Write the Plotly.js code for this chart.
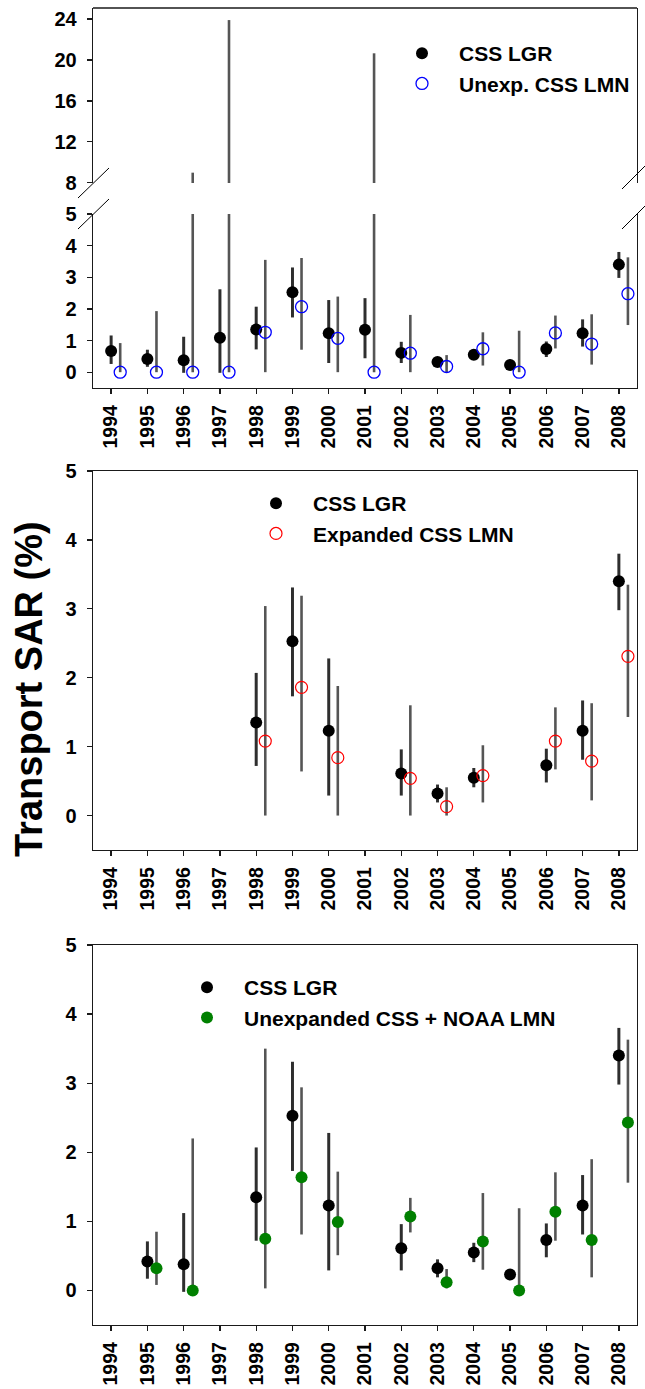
<!DOCTYPE html>
<html><head><meta charset="utf-8">
<script src="https://cdn.plot.ly/plotly-3.0.1.min.js"></script>
<style>html,body{margin:0;padding:0;background:#fff}</style>
</head><body><div id="chart" style="width:645px;height:1389px"></div>
<script>
// ---- data ----
const years = [1994,1995,1996,1997,1998,1999,2000,2001,2002,2003,2004,2005,2006,2007,2008];
const yearLabels = years.map(String);

const lgrSAR = [0.67,0.42,0.38,1.09,1.35,2.53,1.23,1.34,0.61,0.32,0.55,0.23,0.73,1.23,3.40];
const lgrLo  = [0.26,0.17,-0.02,-0.02,0.72,1.73,0.29,0.44,0.29,0.19,0.41,0.17,0.48,0.81,2.98];
const lgrHi  = [1.16,0.71,1.12,2.62,2.07,3.31,2.28,2.34,0.96,0.45,0.69,0.29,0.97,1.67,3.80];

const unexpSAR = [0,0,0,0,1.26,2.07,1.07,0,0.60,0.18,0.74,0,1.24,0.89,2.48];
const unexpLo  = [0,0,0,0,0,0.71,0,0,0,0,0.21,0,0.75,0.24,1.49];
const unexpHi  = [0.92,1.93,8.98,23.9,3.55,3.61,2.39,20.65,1.81,0.54,1.26,1.31,1.79,1.83,3.63];

const expSAR = [null,null,null,null,1.08,1.86,0.84,null,0.54,0.13,0.58,null,1.08,0.79,2.31];
const expLo  = [null,null,null,null,0,0.64,0,null,0,0,0.19,null,0.67,0.22,1.43];
const expHi  = [null,null,null,null,3.04,3.19,1.88,null,1.60,0.41,1.02,null,1.57,1.63,3.35];

const noaaSAR = [null,0.32,0.00,null,0.75,1.64,0.99,null,1.07,0.12,0.71,0.00,1.14,0.73,2.43];
const noaaLo  = [null,0.08,0,null,0.03,0.81,0.51,null,0.84,0.03,0.30,0,0.72,0.19,1.56];
const noaaHi  = [null,0.85,2.20,null,3.50,2.94,1.72,null,1.34,0.31,1.41,1.19,1.71,1.90,3.63];

const seriesNames = ['CSS LGR','Unexp. CSS LMN','Expanded CSS LMN','Unexpanded CSS + NOAA LMN'];

// ---- helpers ----
const FONT = 'Liberation Sans, Arial, Helvetica, sans-serif';
const W = 645, H = 1389, L = 93, R = 8;
const PW = W - L - R;
const px = X => (X - L) / PW;
const py = Y => 1 - Y / H;

function trace(vals, lo, hi, mask, xa, ya, offset, marker, barColor, barW, name, legend, showlegend) {
  const xs = [], ys = [], up = [], dn = [];
  years.forEach((yr, i) => {
    if (vals[i] === null || (mask && mask[i] === null)) return;
    xs.push(yr + offset); ys.push(vals[i]);
    up.push(hi[i] - vals[i]); dn.push(vals[i] - lo[i]);
  });
  return {
    type: 'scatter', mode: 'markers', x: xs, y: ys, xaxis: xa, yaxis: ya,
    name: name, legend: legend, showlegend: showlegend,
    marker: marker,
    error_y: {type: 'data', symmetric: false, array: up, arrayminus: dn,
              width: 0, thickness: barW, color: barColor},
    hoverinfo: 'x+y'
  };
}

const mLGR = {symbol: 'circle', size: 12, color: '#000'};
const mUnexp = {symbol: 'circle-open', size: 12, color: '#0000ff', line: {width: 1.3, color: '#0000ff'}};
const mExp = {symbol: 'circle-open', size: 12, color: '#ff0000', line: {width: 1.2, color: '#ff0000'}};
const mNoaa = {symbol: 'circle', size: 12, color: '#008000'};
const cLGR = '#2e2e2e', cOther = '#555555';

const data = [
  // panel 1, lower segment
  trace(lgrSAR, lgrLo, lgrHi, null, 'x', 'y', 0, mLGR, cLGR, 3, seriesNames[0], 'legend', true),
  trace(unexpSAR, unexpLo, unexpHi, null, 'x', 'y', 0.25, mUnexp, cOther, 2.6, seriesNames[1], 'legend', true),
  // panel 1, upper segment (same data, clipped to the 8-25 range)
  trace(lgrSAR, lgrLo, lgrHi, null, 'x', 'y2', 0, mLGR, cLGR, 3, seriesNames[0], 'legend', false),
  trace(unexpSAR, unexpLo, unexpHi, null, 'x', 'y2', 0.25, mUnexp, cOther, 2.6, seriesNames[1], 'legend', false),
  // panel 2
  trace(lgrSAR, lgrLo, lgrHi, expSAR, 'x2', 'y3', 0, mLGR, cLGR, 3, seriesNames[0], 'legend2', true),
  trace(expSAR, expLo, expHi, null, 'x2', 'y3', 0.25, mExp, cOther, 2.6, seriesNames[2], 'legend2', true),
  // panel 3
  trace(lgrSAR, lgrLo, lgrHi, noaaSAR, 'x3', 'y4', 0, mLGR, cLGR, 3, seriesNames[0], 'legend3', true),
  trace(noaaSAR, noaaLo, noaaHi, null, 'x3', 'y4', 0.25, mNoaa, cOther, 2.6, seriesNames[3], 'legend3', true)
];

const lineC = '#1a1a1a';
const tickFontY = {family: FONT, size: 20, weight: 'bold', color: '#000'};
const tickFontX = {family: FONT, size: 19.5, weight: 'bold', color: '#000'};

function xaxis(anchor, mirror) {
  return {
    anchor: anchor, range: [1993.5, 2008.5], tickmode: 'array', tickvals: years, ticktext: yearLabels,
    tickangle: -90, ticks: 'outside', ticklen: 5, tickwidth: 1.3, tickcolor: lineC,
    showline: true, linecolor: lineC, linewidth: 1.3, mirror: mirror,
    showgrid: false, zeroline: false, tickfont: tickFontX, ticklabelstandoff: 3, fixedrange: true
  };
}
function yaxis(domain, range, tickvals, anchor) {
  return {
    domain: domain, range: range, anchor: anchor, tickmode: 'array', tickvals: tickvals,
    ticks: 'outside', ticklen: 5, tickwidth: 1.3, tickcolor: lineC,
    showline: true, linecolor: lineC, linewidth: 1.3, mirror: true,
    showgrid: false, zeroline: false, tickfont: tickFontY, ticklabelstandoff: 6, fixedrange: true
  };
}

const legendBase = {
  xanchor: 'left', yanchor: 'top', bgcolor: 'rgba(0,0,0,0)', borderwidth: 0,
  font: {family: FONT, size: 21, weight: 'bold', color: '#000'}, itemwidth: 64, tracegroupgap: 0
};

const slash = (x0, y0, x1, y1) => ({type: 'line', xref: 'paper', yref: 'paper',
  x0: px(x0), y0: py(y0), x1: px(x1), y1: py(y1), line: {color: '#000', width: 1}});

const layout = {
  width: W, height: H, margin: {l: L, r: R, t: 0, b: 0},
  paper_bgcolor: '#fff', plot_bgcolor: '#fff', showlegend: true,
  xaxis: xaxis('y', false),
  yaxis: yaxis([py(388), py(214)], [-0.5, 5], [0,1,2,3,4,5], 'x'),
  yaxis2: yaxis([py(183), py(8)], [7.97, 25.08], [8,12,16,20,24], 'x'),
  xaxis2: xaxis('y3', true),
  yaxis3: yaxis([py(850), py(471)], [-0.5, 5], [0,1,2,3,4,5], 'x2'),
  xaxis3: xaxis('y4', true),
  yaxis4: yaxis([py(1325), py(945)], [-0.5, 5], [0,1,2,3,4,5], 'x3'),
  legend: Object.assign({}, legendBase, {x: px(385), y: py(33)}),
  legend2: Object.assign({}, legendBase, {x: px(239), y: py(483)}),
  legend3: Object.assign({}, legendBase, {x: px(170), y: py(967)}),
  annotations: [{
    text: 'Transport SAR (%)', xref: 'paper', yref: 'paper', x: px(29), y: py(689),
    xanchor: 'center', yanchor: 'middle', textangle: -90, showarrow: false,
    font: {family: FONT, size: 38, weight: 'bold', color: '#000'}
  }],
  shapes: [
    {type: 'line', xref: 'paper', yref: 'paper', x0: 0, x1: 1, y0: py(8), y1: py(8), line: {color: lineC, width: 1.3}},
    slash(78, 198, 109, 168), slash(78, 229, 109, 199),
    slash(622, 189, 652, 159), slash(622, 229, 652, 199)
  ]
};

Plotly.newPlot('chart', data, layout, {displayModeBar: false, staticPlot: true});
</script></body></html>
